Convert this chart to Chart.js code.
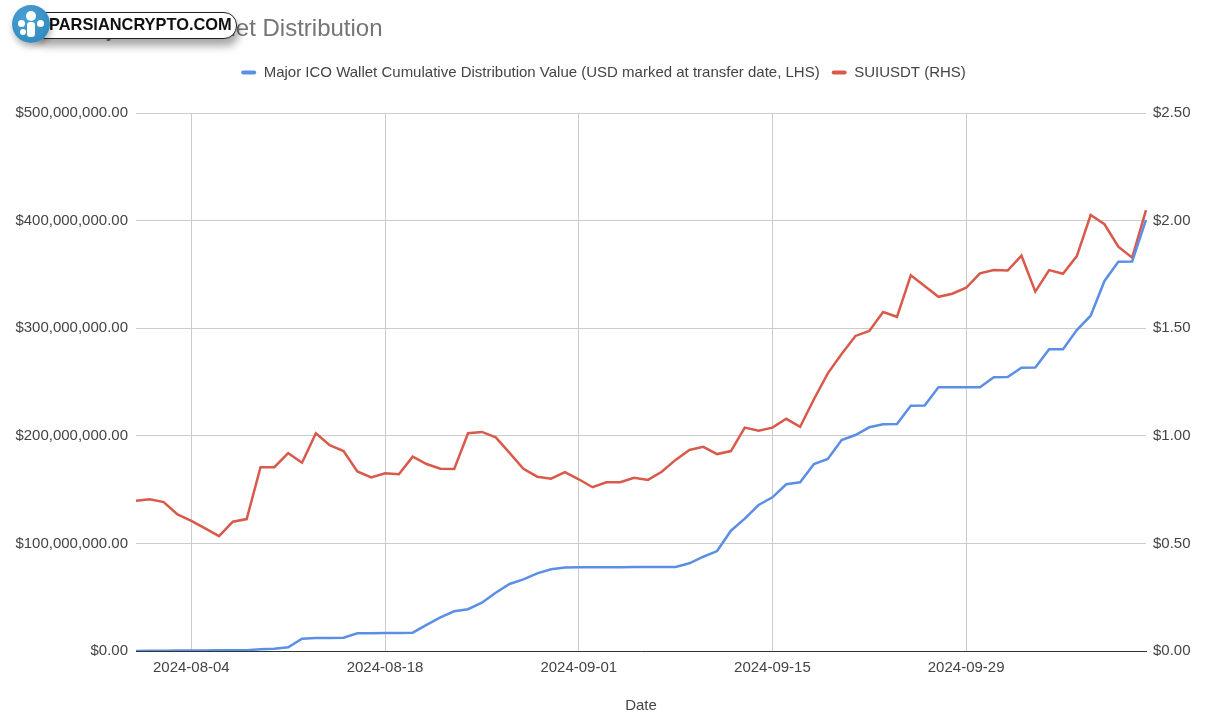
<!DOCTYPE html>
<html>
<head>
<meta charset="utf-8">
<title>Major ICO Wallet Distribution</title>
<script src="https://cdn.jsdelivr.net/npm/chart.js@4.4.1/dist/chart.umd.min.js"></script>
<style>
  html, body { margin: 0; padding: 0; background: #fff; }
  #wrap { position: relative; width: 1207px; height: 712px; overflow: hidden; }
  #chart { position: absolute; left: 0; top: 0; }
  #title {
    position: absolute; left: 74px; top: 14px; line-height: 24px;
    font: 24px "Liberation Sans", Arial, sans-serif; color: #757575; white-space: nowrap;
  }
  /* watermark pasted over the title */
  #logo { position: absolute; left: 12px; top: 4px; width: 230px; height: 40px; }
  #logo .pill {
    position: absolute; left: 20px; top: 8px; width: 203px; height: 25px;
    background: #fff; border: 1.5px solid #222; border-radius: 13px;
    box-shadow: 2px 7px 8px rgba(0,0,0,0.35);
  }
  #logo .pill span {
    position: absolute; left: 16px; top: 2px;
    font: bold 16.4px "Liberation Sans", Arial, sans-serif; color: #111;
  }
  #logo .dot {
    position: absolute; left: 0; top: 1px; width: 38px; height: 38px; border-radius: 50%;
    background: radial-gradient(circle at 40% 35%, #4aa3d6, #2a82b8);
    box-shadow: 1px 4px 6px rgba(0,0,0,0.3);
  }
  #logo .dot i { position: absolute; background: #fff; border-radius: 50%; }
</style>
</head>
<body>
<div id="wrap">
  <canvas id="chart" width="1207" height="712"></canvas>
  <div id="title">Major ICO Wallet Distribution</div>
  <div id="logo">
    <div class="pill"><span>PARSIANCRYPTO.COM</span></div>
    <div class="dot">
      <i style="left:14px;top:6px;width:10px;height:10px"></i>
      <i style="left:6px;top:15px;width:7px;height:7px"></i>
      <i style="left:25px;top:15px;width:7px;height:7px"></i>
      <i style="left:15px;top:17px;width:8px;height:15px;border-radius:3px"></i>
      <i style="left:8px;top:24px;width:6px;height:6px"></i>
    </div>
  </div>
</div>
<script>
const dates = [
  "2024-07-31",
  "2024-08-01", "2024-08-02", "2024-08-03", "2024-08-04", "2024-08-05", "2024-08-06", "2024-08-07",
  "2024-08-08", "2024-08-09", "2024-08-10", "2024-08-11", "2024-08-12", "2024-08-13", "2024-08-14",
  "2024-08-15", "2024-08-16", "2024-08-17", "2024-08-18", "2024-08-19", "2024-08-20", "2024-08-21",
  "2024-08-22", "2024-08-23", "2024-08-24", "2024-08-25", "2024-08-26", "2024-08-27", "2024-08-28",
  "2024-08-29", "2024-08-30", "2024-08-31",
  "2024-09-01", "2024-09-02", "2024-09-03", "2024-09-04", "2024-09-05", "2024-09-06", "2024-09-07",
  "2024-09-08", "2024-09-09", "2024-09-10", "2024-09-11", "2024-09-12", "2024-09-13", "2024-09-14",
  "2024-09-15", "2024-09-16", "2024-09-17", "2024-09-18", "2024-09-19", "2024-09-20", "2024-09-21",
  "2024-09-22", "2024-09-23", "2024-09-24", "2024-09-25", "2024-09-26", "2024-09-27", "2024-09-28",
  "2024-09-29", "2024-09-30",
  "2024-10-01", "2024-10-02", "2024-10-03", "2024-10-04", "2024-10-05", "2024-10-06", "2024-10-07",
  "2024-10-08", "2024-10-09", "2024-10-10", "2024-10-11", "2024-10-12"
];

// cumulative distribution value, millions of USD (LHS)
const distValuesM = [
  0.1, 0.2, 0.3, 0.4, 0.5, 0.5, 0.6, 0.7, 0.8, 1.6,
  2.1, 3.4, 11.4, 12.1, 12.1, 12.3, 16.4, 16.6, 16.7, 16.7,
  17.0, 24.2, 31.3, 36.9, 38.8, 44.9, 54.2, 62.3, 66.6, 72.2,
  75.9, 77.6, 77.8, 77.8, 77.8, 77.9, 78.0, 78.0, 78.0, 78.1,
  81.5, 87.6, 92.9, 111.8, 123.0, 135.7, 142.8, 155.0, 156.8, 173.8,
  178.4, 196.1, 200.7, 207.9, 210.7, 211.0, 228.0, 228.2, 245.1, 245.1,
  245.1, 245.2, 254.4, 254.6, 263.3, 263.4, 280.4, 280.5, 298.3, 311.6,
  343.9, 361.8, 361.9, 400.6
];

// SUIUSDT close (RHS)
const suiPrice = [
  0.698, 0.705, 0.692, 0.635, 0.605, 0.570, 0.534, 0.601, 0.613, 0.854,
  0.854, 0.919, 0.875, 1.012, 0.956, 0.929, 0.834, 0.807, 0.826, 0.821,
  0.903, 0.869, 0.847, 0.846, 1.012, 1.018, 0.993, 0.921, 0.847, 0.810,
  0.801, 0.831, 0.798, 0.761, 0.784, 0.784, 0.805, 0.795, 0.833, 0.888,
  0.934, 0.949, 0.915, 0.929, 1.038, 1.024, 1.038, 1.079, 1.042, 1.170,
  1.290, 1.380, 1.464, 1.487, 1.575, 1.553, 1.746, 1.696, 1.646, 1.660,
  1.688, 1.755, 1.770, 1.768, 1.837, 1.670, 1.770, 1.753, 1.835, 2.026,
  1.983, 1.879, 1.828, 2.049
];

const tickDates = ["2024-08-04", "2024-08-18", "2024-09-01", "2024-09-15", "2024-09-29"];

const FONT = "'Liberation Sans', Arial, sans-serif";
const TEXT = "#444";
const GRID = "#cccccc";

const usd = (v, digits) =>
  "$" + v.toLocaleString("en-US", { minimumFractionDigits: digits, maximumFractionDigits: digits });

// legend sits higher than the plot top; give it extra room underneath
const legendGap = {
  id: "legendGap",
  beforeLayout(chart) {
    const lg = chart.legend;
    if (!lg || lg._gapPatched) return;
    const fit = lg.fit;
    lg.fit = function () { fit.call(this); this.height += 23; };
    lg._gapPatched = true;
  },
};

new Chart(document.getElementById("chart").getContext("2d"), {
  type: "line",
  data: {
    labels: dates,
    datasets: [
      {
        label: "Major ICO Wallet Cumulative Distribution Value (USD marked at transfer date, LHS)",
        data: distValuesM.map((v) => v * 1e6),
        yAxisID: "yL",
        borderColor: "#5b8fe6",
        backgroundColor: "#5b8fe6",
        borderWidth: 2.5,
        pointRadius: 0,
        tension: 0,
      },
      {
        label: "SUIUSDT (RHS)",
        data: suiPrice,
        yAxisID: "yR",
        borderColor: "#d9594b",
        backgroundColor: "#d9594b",
        borderWidth: 2.5,
        pointRadius: 0,
        tension: 0,
      },
    ],
  },
  options: {
    responsive: false,
    animation: false,
    devicePixelRatio: 1,
    layout: { padding: { top: 53, left: 0, right: 0, bottom: 0 } },
    plugins: {
      legend: {
        position: "top",
        labels: {
          color: TEXT,
          font: { family: FONT, size: 15 },
          boxWidth: 15,
          boxHeight: 4,
          useBorderRadius: true,
          borderRadius: 2,
          padding: 12,
          generateLabels: (chart) =>
            Chart.defaults.plugins.legend.labels.generateLabels(chart).map((l) => ({ ...l, lineWidth: 0 })),
        },
      },
      tooltip: { enabled: false },
    },
    scales: {
      x: {
        type: "category",
        offset: false,
        grid: { color: GRID, drawTicks: false, offset: false },
        border: { display: true, color: "#333", width: 1 },
        ticks: {
          autoSkip: false,
          maxRotation: 0,
          padding: 8,
          color: TEXT,
          font: { family: FONT, size: 15 },
          callback: (v, i) => (tickDates.includes(dates[i]) ? dates[i] : null),
        },
        title: {
          display: true,
          text: "Date",
          color: TEXT,
          font: { family: FONT, size: 15 },
          padding: { top: 4, bottom: -3 },
        },
        afterFit: (s) => { s.height = 61; },
      },
      yL: {
        position: "left",
        min: 0,
        max: 500000000,
        grid: { color: GRID, drawTicks: false },
        border: { display: false },
        ticks: {
          stepSize: 100000000,
          padding: 8,
          color: TEXT,
          font: { family: FONT, size: 15 },
          callback: (v) => usd(v, 2),
        },
        afterFit: (s) => { s.width = 136; },
      },
      yR: {
        position: "right",
        min: 0,
        max: 2.5,
        grid: { drawOnChartArea: false, drawTicks: false },
        border: { display: false },
        ticks: {
          stepSize: 0.5,
          padding: 7,
          color: TEXT,
          font: { family: FONT, size: 15 },
          callback: (v) => usd(v, 2),
        },
        afterFit: (s) => { s.width = 61; },
      },
    },
  },
  plugins: [legendGap],
});
</script>
</body>
</html>
